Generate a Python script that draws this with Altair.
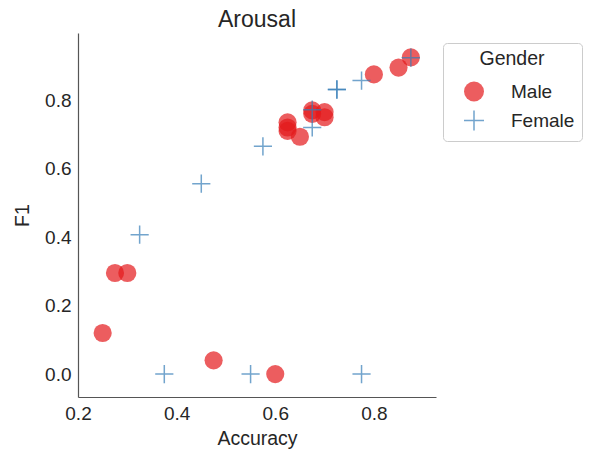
import altair as alt
import pandas as pd

male_acc = [0.25, 0.275, 0.30, 0.475, 0.60, 0.625, 0.625, 0.625, 0.65, 0.675, 0.675, 0.70, 0.70, 0.80, 0.85, 0.875]
male_f1 = [0.12, 0.295, 0.295, 0.04, 0.0, 0.735, 0.72, 0.71, 0.693, 0.77, 0.76, 0.765, 0.75, 0.875, 0.895, 0.925]
female_acc = [0.325, 0.375, 0.45, 0.55, 0.575, 0.675, 0.675, 0.725, 0.725, 0.775, 0.775, 0.875]
female_f1 = [0.407, 0.0, 0.556, 0.0, 0.665, 0.72, 0.772, 0.83, 0.832, 0.0, 0.857, 0.924]
genders = ["Male", "Female"]
x_ticks = [0.2, 0.4, 0.6, 0.8]
y_ticks = [0.0, 0.2, 0.4, 0.6, 0.8]

df = pd.DataFrame({
    "Accuracy": male_acc + female_acc,
    "F1": male_f1 + female_f1,
    "Gender": ["Male"] * len(male_acc) + ["Female"] * len(female_acc),
})

RED = "#e41a1c"
BLUE = "#377eb8"
PLUS = "M-1,0H1M0,-1V1"
FONT = "Liberation Sans"

leg = alt.Legend(
    title="Gender", orient="none", legendX=365, legendY=10,
    titleAnchor="middle", titleFontSize=19.5, titleFont=FONT, titleFontWeight="normal",
    titleColor="#262626", labelFontSize=19, labelFont=FONT, labelColor="#262626",
    strokeColor="#cccccc", cornerRadius=4, padding=7, symbolSize=400, symbolOffset=13,
    symbolStrokeWidth=1.5, symbolOpacity=0.7, rowPadding=3, labelOffset=26, titlePadding=11,
    fillColor="white",
)

chart = alt.Chart(df).mark_point(size=330, opacity=0.7, strokeWidth=1.5).encode(
    x=alt.X("Accuracy:Q", scale=alt.Scale(domain=[0.2, 0.926], nice=False, zero=False),
            axis=alt.Axis(values=x_ticks, format=".1f", title="Accuracy", labelFlush=False)),
    y=alt.Y("F1:Q", scale=alt.Scale(domain=[-0.067, 0.996], nice=False, zero=False),
            axis=alt.Axis(values=y_ticks, format=".1f", title="F1", labelFlush=False)),
    shape=alt.Shape("Gender:N", scale=alt.Scale(domain=genders, range=["circle", PLUS]), legend=leg),
    fill=alt.Fill("Gender:N", scale=alt.Scale(domain=genders, range=[RED, "transparent"]), legend=leg),
    stroke=alt.Stroke("Gender:N", scale=alt.Scale(domain=genders, range=["transparent", BLUE]), legend=leg),
).properties(
    width=358, height=364,
    title=alt.TitleParams("Arousal", fontSize=23, font=FONT, fontWeight="normal", color="#262626",
                          offset=1),
    autosize=alt.AutoSizeParams(type="none"),
    padding={"left": 70, "top": 25, "right": 149, "bottom": 52},
).configure_view(stroke=None).configure_axis(
    grid=False, ticks=False, domainColor="#555555", domainWidth=1.2,
    labelFont=FONT, labelFontSize=19, labelColor="#262626", labelPadding=7,
    titleFont=FONT, titleFontSize=19.5, titleColor="#262626", titleFontWeight="normal",
).configure_axisX(titlePadding=6).configure_axisY(titlePadding=12)

chart.save("out.html", embed_options={"renderer": "svg", "actions": False})
